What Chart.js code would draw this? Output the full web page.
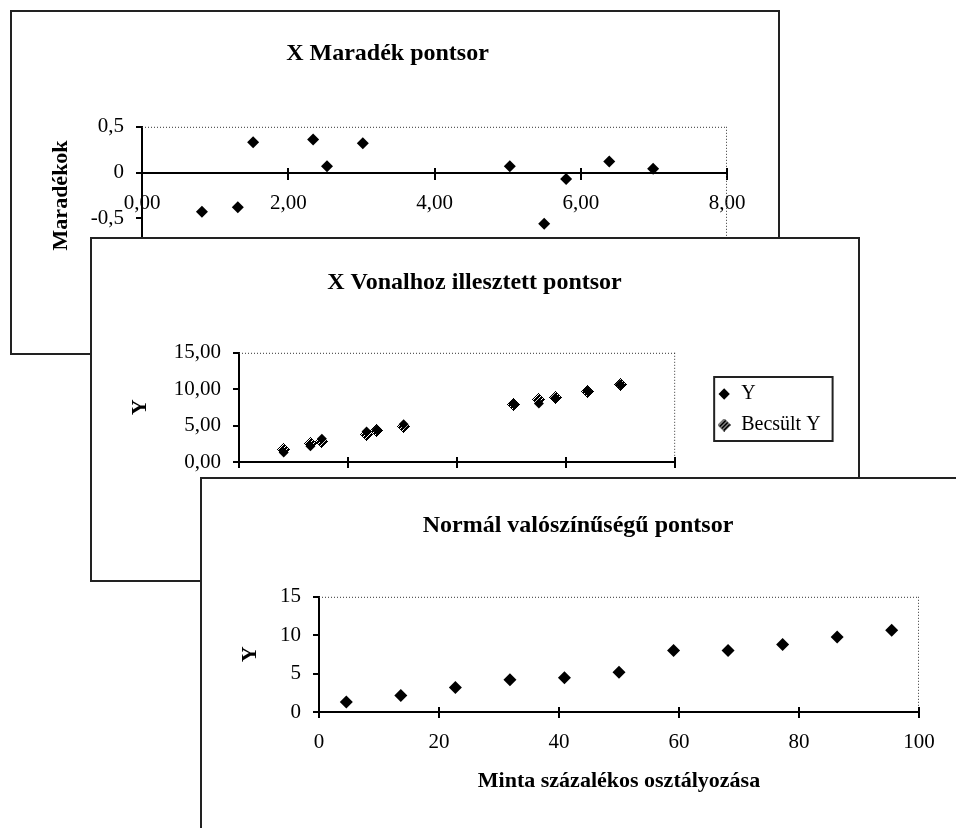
<!DOCTYPE html>
<html>
<head>
<meta charset="utf-8">
<script src="https://cdn.jsdelivr.net/npm/chart.js@4.4.1/dist/chart.umd.min.js"></script>
<style>
  body { margin: 0; width: 956px; height: 828px; overflow: hidden; background: #fff; position: relative; }
  .frame { position: absolute; width: 766px; border: 2px solid #222; background: #fff; }
  .frame canvas { display: block; }
</style>
</head>
<body>
<div class="frame" style="left:10px;top:10px;height:341px"><canvas id="residualChart" width="766" height="341"></canvas></div>
<div class="frame" style="left:90px;top:237px;height:341px"><canvas id="fitChart" width="766" height="341"></canvas></div>
<div class="frame" style="left:200px;top:477px;height:356px"><canvas id="normalChart" width="766" height="356"></canvas></div>
<script>
const xValues = [0.82, 1.31, 1.52, 2.34, 2.53, 3.02, 5.03, 5.50, 5.80, 6.39, 6.99];
const residuals = [-0.43, -0.38, 0.33, 0.36, 0.07, 0.32, 0.07, -0.56, -0.07, 0.12, 0.04];
const yValues = [1.29, 2.15, 3.20, 4.20, 4.46, 5.19, 8.02, 8.02, 8.79, 9.77, 10.63];
const fittedY = [1.72, 2.53, 2.87, 3.84, 4.39, 4.87, 7.95, 8.58, 8.86, 9.65, 10.59];
// normal probability plot
const percentiles = [4.55, 13.64, 22.73, 31.82, 40.91, 50.00, 59.09, 68.18, 77.27, 86.36, 95.45];
const sortedY = [1.29, 2.15, 3.20, 4.20, 4.46, 5.19, 8.02, 8.02, 8.79, 9.77, 10.63];

const titles = ["X Maradék pontsor", "X Vonalhoz illesztett pontsor", "Normál valószínűségű pontsor"];

Chart.defaults.font.family = '"Liberation Serif", "Times New Roman", serif';
Chart.defaults.color = "#000";

const tickFont = { size: 21 };
const titleFont = { size: 24, weight: "bold" };
const axisTitleFont = { size: 22, weight: "bold" };

function comma(v, digits) {
  return Number(v).toFixed(digits).replace(".", ",");
}

// hatched marker used for "Becsült Y"
function hatchMarker() {
  const n = 13, m = 6;
  const c = document.createElement("canvas");
  c.width = n;
  c.height = n;
  const g = c.getContext("2d");
  const img = g.createImageData(n, n);
  for (let j = 0; j < n; j++) {
    for (let i = 0; i < n; i++) {
      const inside = Math.abs(i - m) + Math.abs(j - m) <= m;
      if (inside && (i + j) % 4 !== 3) {
        img.data[(j * n + i) * 4 + 3] = 255;
      }
    }
  }
  g.putImageData(img, 0, 0);
  return c;
}
const hatch = hatchMarker();

// dotted plot-area frame like Excel
const plotFrame = {
  id: "plotFrame",
  beforeDatasetsDraw(chart) {
    const { ctx, chartArea: a } = chart;
    ctx.save();
    ctx.strokeStyle = "#333";
    ctx.lineWidth = 1;
    ctx.setLineDash([1, 2]);
    ctx.beginPath();
    ctx.moveTo(a.left, a.top + 0.5);
    ctx.lineTo(a.right, a.top + 0.5);
    ctx.moveTo(a.right - 0.5, a.top);
    ctx.lineTo(a.right - 0.5, a.bottom);
    ctx.stroke();
    ctx.restore();
    ctx.imageSmoothingEnabled = false;
  }
};

// tick marks that cross the x axis
const crossTicks = {
  id: "crossTicks",
  afterDraw(chart, args, opts) {
    const x = chart.scales.x;
    const y = chart.scales.y;
    const y0 = Math.round(y.getPixelForValue(opts.at ?? y.min));
    const { ctx } = chart;
    ctx.save();
    ctx.strokeStyle = "#000";
    ctx.lineWidth = 2;
    ctx.beginPath();
    x.ticks.forEach(t => {
      const px = Math.round(x.getPixelForValue(t.value));
      ctx.moveTo(px, y0 - 5);
      ctx.lineTo(px, y0);
    });
    ctx.stroke();
    ctx.restore();
  }
};

const legendBox = {
  id: "legendBox",
  afterDraw(chart) {
    const lg = chart.legend;
    if (!lg || !lg.legendHitBoxes.length) return;
    const boxes = lg.legendHitBoxes;
    const left = Math.min(...boxes.map(b => b.left)) - 3;
    const right = Math.max(...boxes.map(b => b.left + b.width)) + 12;
    const top = Math.min(...boxes.map(b => b.top)) - 7;
    const bottom = Math.max(...boxes.map(b => b.top + b.height)) + 6;
    const { ctx } = chart;
    ctx.save();
    ctx.strokeStyle = "#222";
    ctx.lineWidth = 2;
    ctx.strokeRect(left, top, right - left, bottom - top);
    ctx.restore();
  }
};

const axisLine = { color: "#000", width: 2 };
const tickGrid = { drawOnChartArea: false, drawTicks: true, tickLength: 6, color: "#000", lineWidth: 2 };

const residualChart = new Chart(document.getElementById("residualChart"), {
  type: "scatter",
  data: {
    datasets: [{
      label: "Maradékok",
      data: xValues.map((x, i) => ({ x, y: residuals[i] })),
      pointStyle: "rectRot",
      pointRadius: 6,
      backgroundColor: "#000",
      borderColor: "#000",
      borderWidth: 0
    }]
  },
  options: {
    responsive: false,
    animation: false,
    layout: { padding: { left: 36, right: 51, top: 0, bottom: 89 } },
    plugins: {
      legend: { display: false },
      tooltip: { enabled: false },
      title: { display: true, text: titles[0], font: titleFont, color: "#000", padding: { top: 27, bottom: 59 } },
      crossTicks: { at: 0 }
    },
    scales: {
      x: {
        type: "linear", min: 0, max: 8, position: { y: 0 },
        ticks: { stepSize: 2, padding: 12, font: tickFont, callback: v => comma(v, 2) },
        grid: tickGrid, border: axisLine
      },
      y: {
        min: -1, max: 0.5,
        ticks: { stepSize: 0.5, padding: 12, font: tickFont, callback: v => (v === 0 ? "0" : String(v).replace(".", ",")) },
        grid: tickGrid, border: axisLine,
        title: { display: true, text: "Maradékok", font: axisTitleFont, padding: 0 },
        afterFit: s => { s.width = 94; }
      }
    }
  },
  plugins: [plotFrame, crossTicks]
});

const fitChart = new Chart(document.getElementById("fitChart"), {
  type: "scatter",
  data: {
    datasets: [{
      label: "Y",
      data: xValues.map((x, i) => ({ x, y: yValues[i] })),
      pointStyle: "rectRot",
      pointRadius: 5,
      backgroundColor: "#000",
      borderColor: "#000",
      borderWidth: 0
    }, {
      label: "Becsült Y",
      data: xValues.map((x, i) => ({ x, y: fittedY[i] })),
      pointStyle: hatch,
      pointRadius: 6
    }]
  },
  options: {
    responsive: false,
    animation: false,
    layout: { padding: { left: 35, right: 36, top: 0, bottom: 0 } },
    plugins: {
      tooltip: { enabled: false },
      title: { display: true, text: titles[1], font: titleFont, color: "#000", padding: { top: 29, bottom: 56 } },
      legend: {
        position: "right",
        labels: { usePointStyle: true, boxWidth: 14, boxHeight: 8, padding: 11, font: { size: 20 }, color: "#000" }
      }
    },
    scales: {
      x: {
        type: "linear", min: 0, max: 8,
        ticks: { stepSize: 2, padding: 12, font: tickFont, callback: v => comma(v, 2) },
        grid: tickGrid, border: axisLine,
        afterFit: s => { s.height = 118; }
      },
      y: {
        min: 0, max: 15,
        ticks: { stepSize: 5, padding: 12, font: tickFont, callback: v => comma(v, 2) },
        grid: tickGrid, border: axisLine,
        title: { display: true, text: "Y", font: axisTitleFont, padding: 0 },
        afterFit: s => { s.width = 112; }
      },
      gap: {
        position: "right", display: true,
        ticks: { display: false }, grid: { display: false }, border: { display: false },
        afterFit: s => { s.width = 31; }
      }
    }
  },
  plugins: [plotFrame, crossTicks, legendBox]
});

const normalChart = new Chart(document.getElementById("normalChart"), {
  type: "scatter",
  data: {
    datasets: [{
      label: "Y",
      data: percentiles.map((p, i) => ({ x: p, y: sortedY[i] })),
      pointStyle: "rectRot",
      pointRadius: 6.5,
      backgroundColor: "#000",
      borderColor: "#000",
      borderWidth: 0
    }]
  },
  options: {
    responsive: false,
    animation: false,
    layout: { padding: { left: 35, right: 49, top: 0, bottom: 40 } },
    plugins: {
      legend: { display: false },
      tooltip: { enabled: false },
      title: { display: true, text: titles[2], font: titleFont, color: "#000", padding: { top: 32, bottom: 57 } }
    },
    scales: {
      x: {
        type: "linear", min: 0, max: 100,
        ticks: { stepSize: 20, padding: 12, font: tickFont },
        grid: tickGrid, border: axisLine,
        title: { display: true, text: "Minta százalékos osztályozása", font: axisTitleFont, padding: 0 },
        afterFit: s => { s.height = 83; }
      },
      y: {
        min: 0, max: 15,
        ticks: { stepSize: 5, padding: 12, font: tickFont },
        grid: tickGrid, border: axisLine,
        title: { display: true, text: "Y", font: axisTitleFont, padding: 0 },
        afterFit: s => { s.width = 82; }
      }
    }
  },
  plugins: [plotFrame, crossTicks]
});
</script>
</body>
</html>
